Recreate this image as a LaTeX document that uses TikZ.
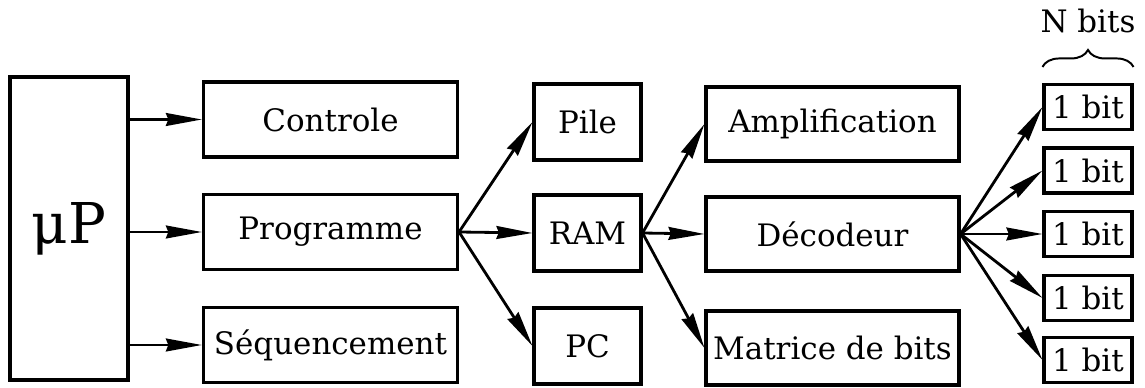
\documentclass[tikz,border=0pt]{standalone}
\usepackage{fontspec}
\setmainfont{DejaVu Serif}
\usepackage{tikz}
\usetikzlibrary{arrows.meta,positioning,calc,decorations.pathreplacing}

\begin{document}
\begin{tikzpicture}[x=0.25mm, y=-0.25mm, >={Stealth[length=9mm, width=3.2mm, inset=0.6mm]}]
  \tikzset{
    blk/.style={draw, line width=2.2pt, inner sep=0pt, font=\fontsize{22}{26}\selectfont},
    colA/.style={blk, minimum width=63.5mm, minimum height=18.75mm},
    colB/.style={blk, minimum width=26.75mm, minimum height=19mm},
    colC/.style={blk, minimum width=63.25mm, minimum height=18.5mm},
    bit/.style={blk, minimum width=22mm, minimum height=11.25mm},
    link/.style={line width=2pt, ->}
  }
  \useasboundingbox (0,0) rectangle (1145,388);

  % processor
  \node[blk, minimum width=29.5mm, minimum height=75.75mm, font=\fontsize{40}{46}\selectfont] (mu) at (69,228.5) {μP};

  % first column
  \node[colA] (ctl)  at (330.5,119.5) {Controle};
  \node[colA] (prog) at (330.5,232)   {Programme};
  \node[colA] (seq)  at (330.5,345)   {Séquencement};

  % memory
  \node[colB] (pile) at (587.5,122) {Pile};
  \node[colB] (ram)  at (587.5,233) {RAM};
  \node[colB] (pc)   at (587.5,346) {PC};

  % RAM parts
  \node[colC] (ampl) at (832.5,124) {Amplification};
  \node[colC] (deco) at (832.5,234) {Décodeur};
  \node[colC] (mat)  at (832.5,348) {Matrice de bits};

  % bits
  \foreach \y [count=\i] in {107,170.5,234,298,360}
    \node[bit] (b\i) at (1088,\y) {1 bit};
  \draw[decorate, decoration={brace, amplitude=4.25mm}, line width=1.4pt]
    ($(b1.north west)+(0,-16)$) -- ($(b1.north east)+(0,-16)$);
  \node[anchor=base, inner sep=0pt, font=\fontsize{22}{26}\selectfont] (nb) at (1088,33) {N bits};

  \foreach \t in {ctl,prog,seq}
    \draw[link] (mu.east |- \t.west) -- (\t.west);
  \foreach \t in {pile,ram,pc}
    \draw[link] (prog.east) -- (\t.west);
  \foreach \t in {ampl,deco,mat}
    \draw[link] (ram.east) -- (\t.west);
  \foreach \i in {1,...,5}
    \draw[link] (deco.east) -- (b\i.west);
\end{tikzpicture}
\end{document}
